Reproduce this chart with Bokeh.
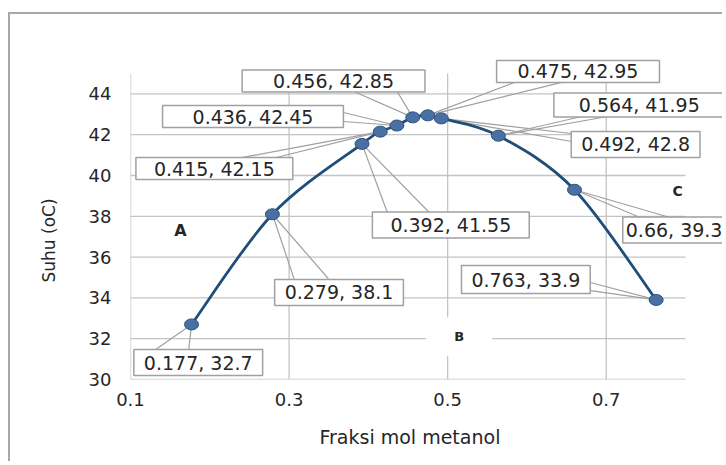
from bokeh.plotting import figure
from bokeh.models import Label, Title
from bokeh.embed import file_html
from bokeh.resources import INLINE

# ---- data ----
frac = [0.177, 0.279, 0.392, 0.415, 0.436, 0.456, 0.475, 0.492, 0.564, 0.66, 0.763]
suhu = [32.7, 38.1, 41.55, 42.15, 42.45, 42.85, 42.95, 42.8, 41.95, 39.3, 33.9]
x_ticks = [0.1, 0.3, 0.5, 0.7]
y_ticks = [30, 32, 34, 36, 38, 40, 42, 44]
region_names = ["A", "B", "C"]
x_title = "Fraksi mol metanol"
y_title = "Suhu (oC)"

# ---- layout (page pixels) ----
OX, OY = 10, 14                 # canvas origin on the page (after css margin + border)
W, H = 714, 449
PL, PR, PB, PT = 130, 685, 379, 73   # plot-area edges (0.1 / 0.8, 30 / 45)
X0, X1 = 0.1, 0.8
Y0, Y1 = 30, 45
SX = (X1 - X0) / (PR - PL)      # data per pixel
SY = (Y1 - Y0) / (PB - PT)
FRAME_TOP = 56                  # frame extends above/right so the callouts are not clipped
ML = PL - OX
MR = 0
MT = FRAME_TOP - OY
MB = OY + H - PB
XR = (X0, X1 + (OX + W - PR) * SX)
YR = (Y0, Y1 + (PT - FRAME_TOP) * SY)

FONT = "DejaVu Sans"
TXT = "#262626"
GRID = "#c4c4c4"
BOXC = "#a0a0a0"

# callout: (box centre offset px (dx, dy down), pad h, pad v, wedge base1, base2)
callouts = [
    ((6.7, 38.1), 10, 2, (-35.8, 25.1), (-2.8, 25.1)),
    ((66.6, 78.2), 10, 2, (21.6, 64.5), (56.0, 64.5)),
    ((88.8, 81.1), 18, 2, (25.3, 68.6), (67.3, 68.6)),
    ((-165.9, 36.9), 18, 0, (-148.9, 27.9), (-111.9, 27.9)),
    ((-143.9, -9.0), 30, 0, (-53.4, -13.0), (-53.4, -4.0)),
    ((-79.2, -36.4), 31, 0, (-61.2, -26.9), (-16.2, -26.9)),
    ((150.2, -43.9), 21, 0, (86.7, -32.9), (133.7, -32.9)),
    ((194.3, 26.1), 10, 2, (130.3, 15.1), (130.3, 23.1)),
    ((140.9, -30.7), 25, 1, (83.4, -19.2), (109.4, -19.2)),
    ((99.6, 40.2), 3, 2, (65.6, 27.7), (95.6, 27.7)),
    ((-130.3, -20.4), 10, 3, (-65.8, -17.4), (-65.8, -9.4)),
]
region_pos = [(0.163, 37.3), (0.5145, 32.1), (0.790, 39.26)]
region_style = [(16, 0, 0), (13, 28, 12), (14, 0, 0)]

p = figure(width=W, height=H, x_range=XR, y_range=YR,
           output_backend="svg", toolbar_location=None,
           min_border_left=ML, min_border_right=MR,
           min_border_top=MT, min_border_bottom=MB)
p.outline_line_color = None
p.background_fill_color = "white"
p.border_fill_color = "white"
p.styles = {"border-left": "2px solid #a8a8a8", "border-top": "2px solid #a8a8a8",
            "margin-left": "8px", "margin-top": "12px"}
p.grid.visible = False

for ax in (p.xaxis, p.yaxis):
    ax.major_tick_line_color = None
    ax.minor_tick_line_color = None
    ax.axis_line_color = None
    ax.major_label_text_font = FONT
    ax.major_label_text_font_size = "18px"
    ax.major_label_text_color = TXT
p.xaxis.ticker = x_ticks
p.yaxis.ticker = y_ticks
p.xaxis.major_tick_out = 0
p.yaxis.major_tick_out = 0
p.xaxis.major_label_standoff = 13
p.yaxis.major_label_standoff = 19

p.add_layout(Title(text=y_title, align="left", offset=97, vertical_align="middle",
                   standoff=52, text_font=FONT, text_font_size="17px",
                   text_font_style="normal", text_color=TXT), "left")
p.add_layout(Title(text=x_title, align="left", offset=189, vertical_align="bottom",
                   standoff=31, text_font=FONT, text_font_size="19px",
                   text_font_style="normal", text_color=TXT), "below")

# plot-area grid (restricted to 0.1-0.8 / 30-45)
p.segment(x0=x_ticks, y0=[Y0] * len(x_ticks), x1=x_ticks, y1=[Y1] * len(x_ticks),
          line_color=GRID, line_width=1.3)
p.segment(x0=[X0] * len(y_ticks), y0=y_ticks, x1=[X1] * len(y_ticks), y1=y_ticks,
          line_color=GRID, line_width=1.3)

# leader wedges
for (x, y, c) in zip(frac, suhu, callouts):
    b1, b2 = c[3], c[4]
    p.segment(x0=[x, x], y0=[y, y],
              x1=[x + b1[0] * SX, x + b2[0] * SX],
              y1=[y - b1[1] * SY, y - b2[1] * SY],
              line_color=BOXC, line_width=1.2)

# smoothed line (Catmull-Rom rendered as bezier)
n = len(frac)
bx0, by0, bx1, by1, cx0, cy0, cx1, cy1 = [], [], [], [], [], [], [], []
for i in range(n - 1):
    xm, ym = (frac[i - 1], suhu[i - 1]) if i > 0 else (frac[i], suhu[i])
    xp, yp = (frac[i + 2], suhu[i + 2]) if i + 2 < n else (frac[i + 1], suhu[i + 1])
    bx0.append(frac[i]); by0.append(suhu[i])
    bx1.append(frac[i + 1]); by1.append(suhu[i + 1])
    cx0.append(frac[i] + (frac[i + 1] - xm) / 6); cy0.append(suhu[i] + (suhu[i + 1] - ym) / 6)
    cx1.append(frac[i + 1] - (xp - frac[i]) / 6); cy1.append(suhu[i + 1] - (yp - suhu[i]) / 6)
p.bezier(x0=bx0, y0=by0, x1=bx1, y1=by1, cx0=cx0, cy0=cy0, cx1=cx1, cy1=cy1,
         line_color="#1f4e79", line_width=2.8)

p.ellipse(x=frac, y=suhu, width=14, height=11, width_units="screen", height_units="screen",
          fill_color="#4a6fa3", line_color="#2c5282", line_width=1)

# callout boxes
for (x, y, c) in zip(frac, suhu, callouts):
    (dx, dy), ph, pv = c[0], c[1], c[2]
    p.add_layout(Label(x=x + dx * SX, y=y - dy * SY, text=f"{x}, {y}",
                       text_align="center", text_baseline="middle",
                       text_font=FONT, text_font_size="19px", text_color=TXT,
                       background_fill_color="white", border_line_color=BOXC,
                       border_line_width=1.5,
                       padding=dict(left=ph, right=ph, top=pv, bottom=pv)))

for name, (rx, ry), (fs, ph, pv) in zip(region_names, region_pos, region_style):
    kw = {}
    if ph:
        kw = dict(background_fill_color="white",
                  padding=dict(left=ph, right=ph, top=pv, bottom=pv))
    p.add_layout(Label(x=rx, y=ry, text=name, text_align="center", text_baseline="middle",
                       text_font=FONT, text_font_size=f"{fs}px",
                       text_font_style="bold", text_color=TXT, **kw))

open("out.html", "w").write(file_html(p, INLINE))
